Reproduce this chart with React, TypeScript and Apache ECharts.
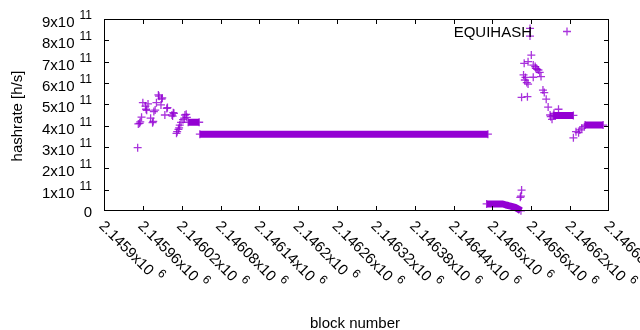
import React, { useEffect, useRef } from "react";
import * as echarts from "echarts";

// ---- data (block number, hashrate in h/s) ----
const scatterBlocks = [
  2145952, 2145953, 2145955, 2145956, 2145958, 2145960, 2145964, 2145965, 2145966, 2145968,
  2145972, 2145975, 2145976, 2145977, 2145979, 2145981, 2145984, 2145985, 2145988, 2145989,
  2145990, 2145994, 2145997, 2145998, 2146005, 2146006, 2146007, 2146008, 2146012, 2146013,
  2146015, 2146016, 2146017, 2146019, 2146022, 2146024, 2146025, 2146027, 2146028,
  2146543, 2146544, 2146545, 2146545, 2146548, 2146549, 2146550, 2146551, 2146553, 2146554,
  2146555, 2146555, 2146558, 2146558, 2146560, 2146563, 2146563, 2146566, 2146567, 2146569,
  2146571, 2146573, 2146575, 2146578, 2146580, 2146583, 2146586, 2146589, 2146590, 2146592,
  2146595, 2146602, 2146625, 2146629, 2146633, 2146635, 2146638, 2146642,
];
const scatterValues = [
  2.97e11, 4.08e11, 4.11e11, 4.18e11, 4.4e11, 5.08e11, 4.92e11, 4.77e11, 4.72e11, 5.02e11,
  4.35e11, 4.14e11, 4.2e11, 4.66e11, 4.73e11, 5.08e11, 5.44e11, 5.38e11, 4.97e11, 5.25e11,
  5.3e11, 4.5e11, 4.81e11, 4.85e11, 4.5e11, 4.45e11, 4.61e11, 4.58e11, 3.64e11, 3.72e11,
  3.83e11, 3.9e11, 4.03e11, 4.15e11, 4.28e11, 4.35e11, 4.5e11, 4.53e11, 4.39e11,
  0.64e11, 0.7e11, 0.98e11, 5.33e11, 6.38e11, 6.92e11, 6.14e11, 6.26e11, 6.02e11, 5.36e11,
  7.0e11, 5.95e11, 8.56e11, 8.2e11, 7.31e11, 6.84e11, 6.27e11, 6.77e11, 6.69e11, 6.64e11,
  6.61e11, 6.5e11, 6.3e11, 5.67e11, 5.55e11, 5.24e11, 4.87e11, 4.5e11, 4.42e11, 4.3e11,
  4.58e11, 4.77e11, 3.43e11, 3.72e11, 3.67e11, 3.8e11, 3.88e11, 3.95e11,
];
// runs of consecutive blocks with a constant hashrate
const runStarts = [2146030, 2146048, 2146594, 2146643];
const runEnds = [2146047, 2146493, 2146625, 2146671];
const runValues = [4.16e11, 3.6e11, 4.48e11, 4.03e11];
// low run that slides to zero
const lowBlocks = [2146491, 2146516, 2146521, 2146528, 2146535, 2146540, 2146544];
const lowValues = [0.33e11, 0.33e11, 0.28e11, 0.23e11, 0.17e11, 0.09e11, 0.01e11];

// axis ticks
const xTickValues = [
  2145900, 2145960, 2146020, 2146080, 2146140, 2146200, 2146260, 2146320, 2146380, 2146440,
  2146500, 2146560, 2146620, 2146680,
];
const yTickValues = [0, 1e11, 2e11, 3e11, 4e11, 5e11, 6e11, 7e11, 8e11, 9e11];

const xMin = 2145900;
const xMax = 2146680;
const xStep = 60;
const yMax = 9e11;
const yStep = 1e11;

const COLOR = "#9400d3";
const FONT = "Liberation Sans, Arial, sans-serif";
const PLUS = "path://M4.2,0H5.8V4.2H10V5.8H5.8V10H4.2V5.8H0V4.2H4.2Z";

const G_LEFT = 104;
const G_RIGHT = 31;
const G_TOP = 19;
const G_BOTTOM = 119;
const TICK = 5;

function frameBox(cs: any) {
  const L = Math.round(cs.x);
  const T = Math.round(cs.y);
  const R = Math.round(cs.x + cs.width) - 1;
  const B = Math.round(cs.y + cs.height) - 1;
  return { L, T, R, B };
}

function bar(x: number, y: number, w: number, h: number) {
  return { type: "rect", shape: { x, y, width: w, height: h }, style: { fill: "#000" } };
}

export default function App() {
  const ref = useRef<HTMLDivElement>(null);
  useEffect(() => {
    if (!ref.current) return;
    const chart = echarts.init(ref.current, null, { renderer: "svg" });

    const points: number[][] = scatterBlocks.map((b, i) => [b, scatterValues[i]]);
    runStarts.forEach((s, i) => {
      points.push([s, runValues[i]]);
      points.push([runEnds[i], runValues[i]]);
    });
    points.push([lowBlocks[0], lowValues[0]]);
    points.push([lowBlocks[lowBlocks.length - 1], lowValues[lowValues.length - 1]]);

    const runSeries = runStarts.map((s, i) => ({
      type: "line",
      data: [
        [s, runValues[i]],
        [runEnds[i], runValues[i]],
      ],
      showSymbol: false,
      lineStyle: { color: COLOR, width: 7, cap: "butt" },
      silent: true,
    }));
    const lowSeries = {
      type: "line",
      data: lowBlocks.map((b, i) => [b, lowValues[i]]),
      showSymbol: false,
      lineStyle: { color: COLOR, width: 7, cap: "butt" },
      silent: true,
    };

    // frame of the plot area
    const frameSeries = {
      type: "custom",
      silent: true,
      clip: false,
      z: 10,
      data: [[xMin, 0]],
      renderItem: (params: any) => {
        const { L, T, R, B } = frameBox(params.coordSys);
        return {
          type: "group",
          children: [
            bar(L, T, 1, B - T + 1),
            bar(R, T, 1, B - T + 1),
            bar(L, T, R - L + 1, 1),
            bar(L, B, R - L + 1, 1),
          ],
        };
      },
    };
    // inward ticks on bottom and mirrored on top
    const xTickSeries = {
      type: "custom",
      silent: true,
      clip: false,
      z: 10,
      data: xTickValues.map((v) => [v, 0]),
      renderItem: (params: any, api: any) => {
        const { L, T, R, B } = frameBox(params.coordSys);
        const p = api.coord([api.value(0), 0]);
        const x = Math.min(Math.max(Math.round(p[0]), L), R);
        return {
          type: "group",
          children: [bar(x, B - TICK + 1, 1, TICK), bar(x, T, 1, TICK)],
        };
      },
    };
    // inward ticks on left and mirrored on right
    const yTickSeries = {
      type: "custom",
      silent: true,
      clip: false,
      z: 10,
      data: yTickValues.map((v) => [xMin, v]),
      renderItem: (params: any, api: any) => {
        const { L, T, R, B } = frameBox(params.coordSys);
        const p = api.coord([xMin, api.value(1)]);
        const y = Math.min(Math.max(Math.round(p[1]), T), B);
        return {
          type: "group",
          children: [bar(L, y, TICK, 1), bar(R - TICK + 1, y, TICK, 1)],
        };
      },
    };

    const labelRich = {
      b: { fontSize: 15, fontFamily: FONT, color: "#000", lineHeight: 20, verticalAlign: "bottom" },
      s: { fontSize: 12, fontFamily: FONT, color: "#000", lineHeight: 12, verticalAlign: "top", padding: [0, 0, 0, 5] },
    };

    const H = 330 - G_TOP - G_BOTTOM;

    const option: any = {
      animation: false,
      grid: {
        left: G_LEFT,
        right: G_RIGHT,
        top: G_TOP,
        bottom: G_BOTTOM,
        outerBoundsMode: "none",
        containLabel: false,
      },
      graphic: [
        {
          type: "text",
          silent: true,
          x: 16.5,
          y: G_TOP + H / 2 + 1,
          rotation: Math.PI / 2,
          style: {
            text: "hashrate [h/s]",
            font: `15px ${FONT}`,
            fill: "#000",
            textAlign: "center",
            textVerticalAlign: "middle",
          },
        },
        {
          type: "text",
          silent: true,
          x: 355,
          y: 322,
          style: {
            text: "block number",
            font: `15px ${FONT}`,
            fill: "#000",
            textAlign: "center",
            textVerticalAlign: "middle",
          },
        },
      ],
      legend: {
        data: ["EQUIHASH"],
        right: 69,
        top: 24,
        padding: 0,
        align: "right",
        icon: PLUS,
        itemWidth: 60,
        itemHeight: 8,
        textStyle: { fontSize: 15, fontFamily: FONT, color: "#000" },
      },
      xAxis: {
        type: "value",
        min: xMin,
        max: xMax,
        interval: xStep,
        axisLine: { show: false },
        axisTick: { show: false },
        splitLine: { show: false },
        axisLabel: {
          rotate: -45,
          margin: 10,
          hideOverlap: false,
          showMinLabel: true,
          showMaxLabel: true,
          formatter: (v: number) => `{b|${+(v / 1e6).toFixed(6)}x10}{s|6}`,
          rich: labelRich,
        },
      },
      yAxis: {
        type: "value",
        min: 0,
        max: yMax,
        interval: yStep,
        axisLine: { show: false },
        axisTick: { show: false },
        splitLine: { show: false },
        axisLabel: {
          margin: 12,
          fontSize: 15,
          fontFamily: FONT,
          color: "#000",
          formatter: (v: number) => (v === 0 ? "0" : `{b|${Math.round(v / 1e11)}x10}{s|11}`),
          rich: labelRich,
        },
      },
      series: [
        {
          name: "EQUIHASH",
          type: "scatter",
          data: points,
          symbol: PLUS,
          symbolSize: 8,
          itemStyle: { color: COLOR },
        },
        ...runSeries,
        lowSeries,
        frameSeries,
        xTickSeries,
        yTickSeries,
      ],
    };
    chart.setOption(option);

    return () => chart.dispose();
  }, []);
  return <div ref={ref} style={{ position: "fixed", left: 0, top: 0, width: 640, height: 330 }} />;
}
